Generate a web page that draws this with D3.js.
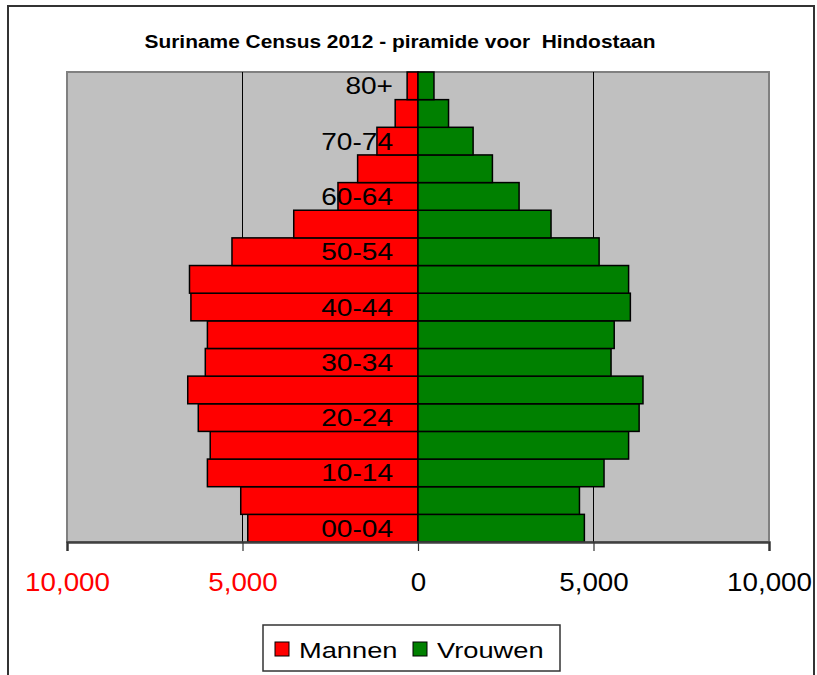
<!DOCTYPE html>
<html>
<head>
<meta charset="utf-8">
<script src="https://cdn.jsdelivr.net/npm/d3@7"></script>
<style>
  body { margin: 0; background: #fff; }
  text { font-family: "Liberation Sans", Arial, sans-serif; }
</style>
</head>
<body>
<div id="chart-container"></div>
<script>
// Age groups, bottom to top
const ageGroups = ["00-04", "05-09", "10-14", "15-19", "20-24", "25-29", "30-34", "35-39",
  "40-44", "45-49", "50-54", "55-59", "60-64", "65-69", "70-74", "75-79", "80+"];
// Only every other group gets a label
const shownLabels = ["00-04", "10-14", "20-24", "30-34", "40-44", "50-54", "60-64", "70-74", "80+"];
const mannen = [4850, 5050, 6000, 5920, 6260, 6560, 6060, 6000, 6470, 6510, 5300, 3540, 2280, 1720, 1170, 650, 310];
const vrouwen = [4740, 4600, 5300, 6000, 6300, 6410, 5500, 5590, 6050, 6000, 5160, 3790, 2880, 2120, 1570, 870, 455];
const tickValues = [-10000, -5000, 0, 5000, 10000];
const title = "Suriname Census 2012 - piramide voor\u00a0 Hindostaan";
const seriesNames = ["Mannen", "Vrouwen"];

const W = 817, H = 675;
const plot = { left: 67, right: 769, top: 72, bottom: 542 };

const svg = d3.select("#chart-container")
  .append("svg")
  .attr("width", W)
  .attr("height", H);

// outer chart frame
svg.append("rect")
  .attr("x", 8).attr("y", 6)
  .attr("width", 806).attr("height", 720)
  .attr("fill", "#fff")
  .attr("stroke", "#333")
  .attr("stroke-width", 2);

// title
svg.append("text")
  .attr("transform", `translate(400,48) scale(1.1,1)`)
  .attr("text-anchor", "middle")
  .attr("font-size", "19px")
  .attr("font-weight", "bold")
  .text(title);

const x = d3.scaleLinear()
  .domain([-10000, 10000])
  .range([plot.left, plot.right]);

const y = d3.scaleBand()
  .domain(ageGroups.slice().reverse())
  .range([plot.top, plot.bottom])
  .padding(0);

// plot background
svg.append("rect")
  .attr("x", plot.left).attr("y", plot.top)
  .attr("width", plot.right - plot.left)
  .attr("height", plot.bottom - plot.top)
  .attr("fill", "#c0c0c0")
  .attr("stroke", "#808080")
  .attr("stroke-width", 2);

// vertical gridlines
svg.selectAll("line.grid")
  .data(tickValues.filter(d => Math.abs(d) === 5000))
  .enter()
  .append("line")
  .attr("class", "grid")
  .attr("x1", d => x(d)).attr("x2", d => x(d))
  .attr("y1", plot.top).attr("y2", plot.bottom)
  .attr("stroke", "#000")
  .attr("stroke-width", 1);

// bars
const rows = ageGroups.map((g, i) => ({ group: g, m: mannen[i], v: vrouwen[i] }));

svg.selectAll("rect.men")
  .data(rows)
  .enter()
  .append("rect")
  .attr("class", "men")
  .attr("x", d => x(-d.m))
  .attr("y", d => y(d.group))
  .attr("width", d => x(0) - x(-d.m))
  .attr("height", y.bandwidth())
  .attr("fill", "#ff0000")
  .attr("stroke", "#000")
  .attr("stroke-width", 1.5);

svg.selectAll("rect.women")
  .data(rows)
  .enter()
  .append("rect")
  .attr("class", "women")
  .attr("x", x(0))
  .attr("y", d => y(d.group))
  .attr("width", d => x(d.v) - x(0))
  .attr("height", y.bandwidth())
  .attr("fill", "#008000")
  .attr("stroke", "#000")
  .attr("stroke-width", 1.5);

// age labels sit inside the plot, right-aligned left of zero
svg.selectAll("text.age")
  .data(shownLabels)
  .enter()
  .append("text")
  .attr("class", "age")
  .attr("transform", d => `translate(${x(0) - 25},${y(d) + y.bandwidth() / 2 + 8.5}) scale(1.17,1)`)
  .attr("text-anchor", "end")
  .attr("font-size", "24px")
  .attr("fill", "#000")
  .text(d => d);

// x axis
const xAxis = d3.axisBottom(x)
  .tickValues(tickValues)
  .tickSize(9)
  .tickPadding(22)
  .tickFormat(d => d3.format(",")(Math.abs(d)));

const axisG = svg.append("g")
  .attr("transform", `translate(0,${plot.bottom})`)
  .call(xAxis);

axisG.select(".domain")
  .attr("stroke", "#404040")
  .attr("stroke-width", 2.5);
axisG.selectAll(".tick line")
  .attr("stroke", "#333")
  .attr("stroke-width", 1.2);
axisG.selectAll(".tick text")
  .attr("font-family", "Liberation Sans, Arial, sans-serif")
  .attr("font-size", "25px")
  .attr("transform", "scale(1.11,1)")
  .attr("fill", d => d < 0 ? "#ff0000" : "#000");

// legend
const legend = svg.append("g")
  .attr("transform", "translate(263,625)");

legend.append("rect")
  .attr("width", 297).attr("height", 46)
  .attr("fill", "#fff")
  .attr("stroke", "#333")
  .attr("stroke-width", 1.5);

const legendColors = ["#ff0000", "#008000"];
const legendX = [12, 150];
seriesNames.forEach((name, i) => {
  const item = legend.append("g")
    .attr("transform", `translate(${legendX[i]},0)`);
  item.append("rect")
    .attr("x", 0).attr("y", 17)
    .attr("width", 14).attr("height", 14)
    .attr("fill", legendColors[i])
    .attr("stroke", "#000")
    .attr("stroke-width", 1);
  item.append("text")
    .attr("transform", "translate(24,33) scale(1.24,1)")
    .attr("font-size", "22px")
    .text(name);
});
</script>
</body>
</html>
